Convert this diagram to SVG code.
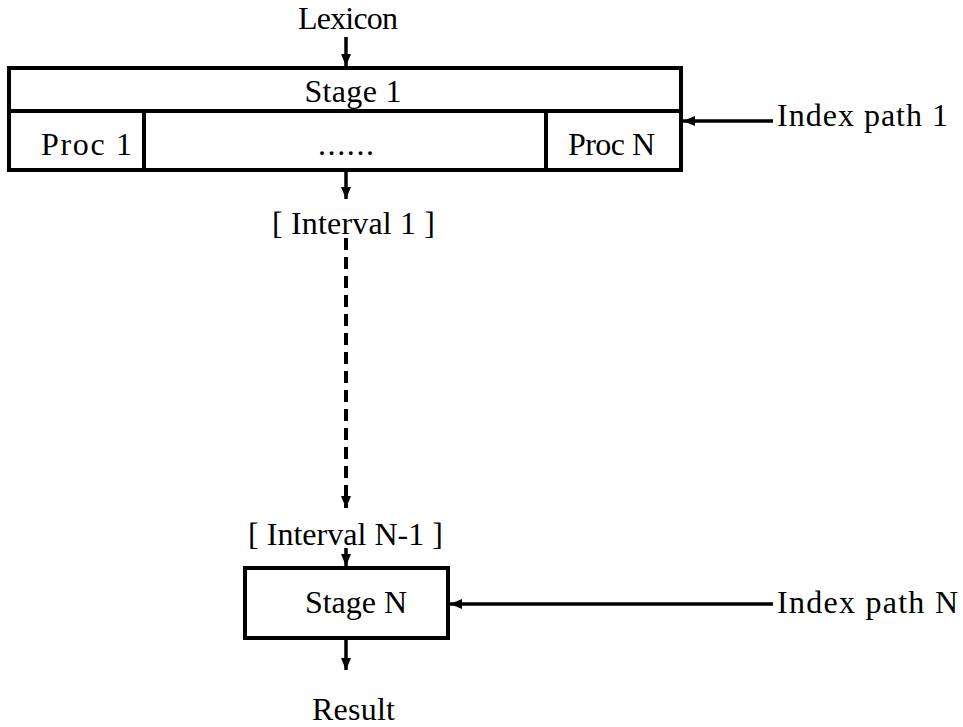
<svg xmlns="http://www.w3.org/2000/svg" width="963" height="727" viewBox="0 0 963 727">
  <defs>
    <marker id="head" viewBox="0 0 12 10" refX="12" refY="5" markerWidth="12" markerHeight="10" markerUnits="userSpaceOnUse" orient="auto">
      <path d="M0,0 L12,5 L0,10 Z" fill="#000"/>
    </marker>
    <style>
      .box { fill: #fff; stroke: #000; stroke-width: 4; }
      .rule { stroke: #000; stroke-width: 4; fill: none; }
      .wire { stroke: #000; stroke-width: 3.5; fill: none; marker-end: url(#head); }
      .dash { stroke-dasharray: 12 7; stroke-width: 4; }
      text { font-family: "Liberation Serif", "Times New Roman", serif; font-size: 32px; fill: #000; }
      .mid { text-anchor: middle; }
    </style>
  </defs>
  <rect width="963" height="727" fill="#fff"/>

  <!-- first stage with its processor row -->
  <g id="stage1">
    <rect class="box" x="9" y="68" width="672" height="102"/>
    <line class="rule" x1="9" y1="111" x2="681" y2="111"/>
    <text class="mid" x="353" y="102" textLength="97" lengthAdjust="spacing">Stage 1</text>
  </g>
  <g id="proc1">
    <line class="rule" x1="144" y1="111" x2="144" y2="170"/>
    <text x="41" y="155" textLength="91" lengthAdjust="spacing">Proc 1</text>
  </g>
  <g id="procs">
    <text class="mid" x="346" y="155" textLength="56" lengthAdjust="spacing">......</text>
  </g>
  <g id="procN">
    <line class="rule" x1="546" y1="111" x2="546" y2="170"/>
    <text x="568" y="155" textLength="87" lengthAdjust="spacing">Proc N</text>
  </g>

  <!-- last stage -->
  <g id="stageN">
    <rect class="box" x="245" y="568" width="203" height="70"/>
    <text x="305" y="613" textLength="102" lengthAdjust="spacing">Stage N</text>
  </g>

  <!-- labels -->
  <g id="lexicon"><text x="298" y="29" textLength="100" lengthAdjust="spacing">Lexicon</text></g>
  <g id="interval1"><text x="272" y="234" textLength="163" lengthAdjust="spacing">[ Interval 1 ]</text></g>
  <g id="intervalN1"><text x="248" y="545" textLength="195" lengthAdjust="spacing">[ Interval N-1 ]</text></g>
  <g id="result"><text x="312" y="720" textLength="83" lengthAdjust="spacing">Result</text></g>
  <g id="index1"><text x="777" y="126" textLength="171" lengthAdjust="spacing">Index path 1</text></g>
  <g id="indexN"><text x="777" y="613" textLength="181" lengthAdjust="spacing">Index path N</text></g>

  <!-- connectors -->
  <g id="connectors">
    <line class="wire" x1="346" y1="37" x2="346" y2="66"/>
    <line class="wire" x1="346" y1="172" x2="346" y2="199"/>
    <line class="wire dash" x1="346" y1="238" x2="346" y2="508"/>
    <line class="wire" x1="346" y1="548" x2="346" y2="566"/>
    <line class="wire" x1="346" y1="640" x2="346" y2="670"/>
    <line class="wire" x1="773" y1="121" x2="683" y2="121"/>
    <line class="wire" x1="773" y1="604" x2="450" y2="604"/>
  </g>
</svg>
